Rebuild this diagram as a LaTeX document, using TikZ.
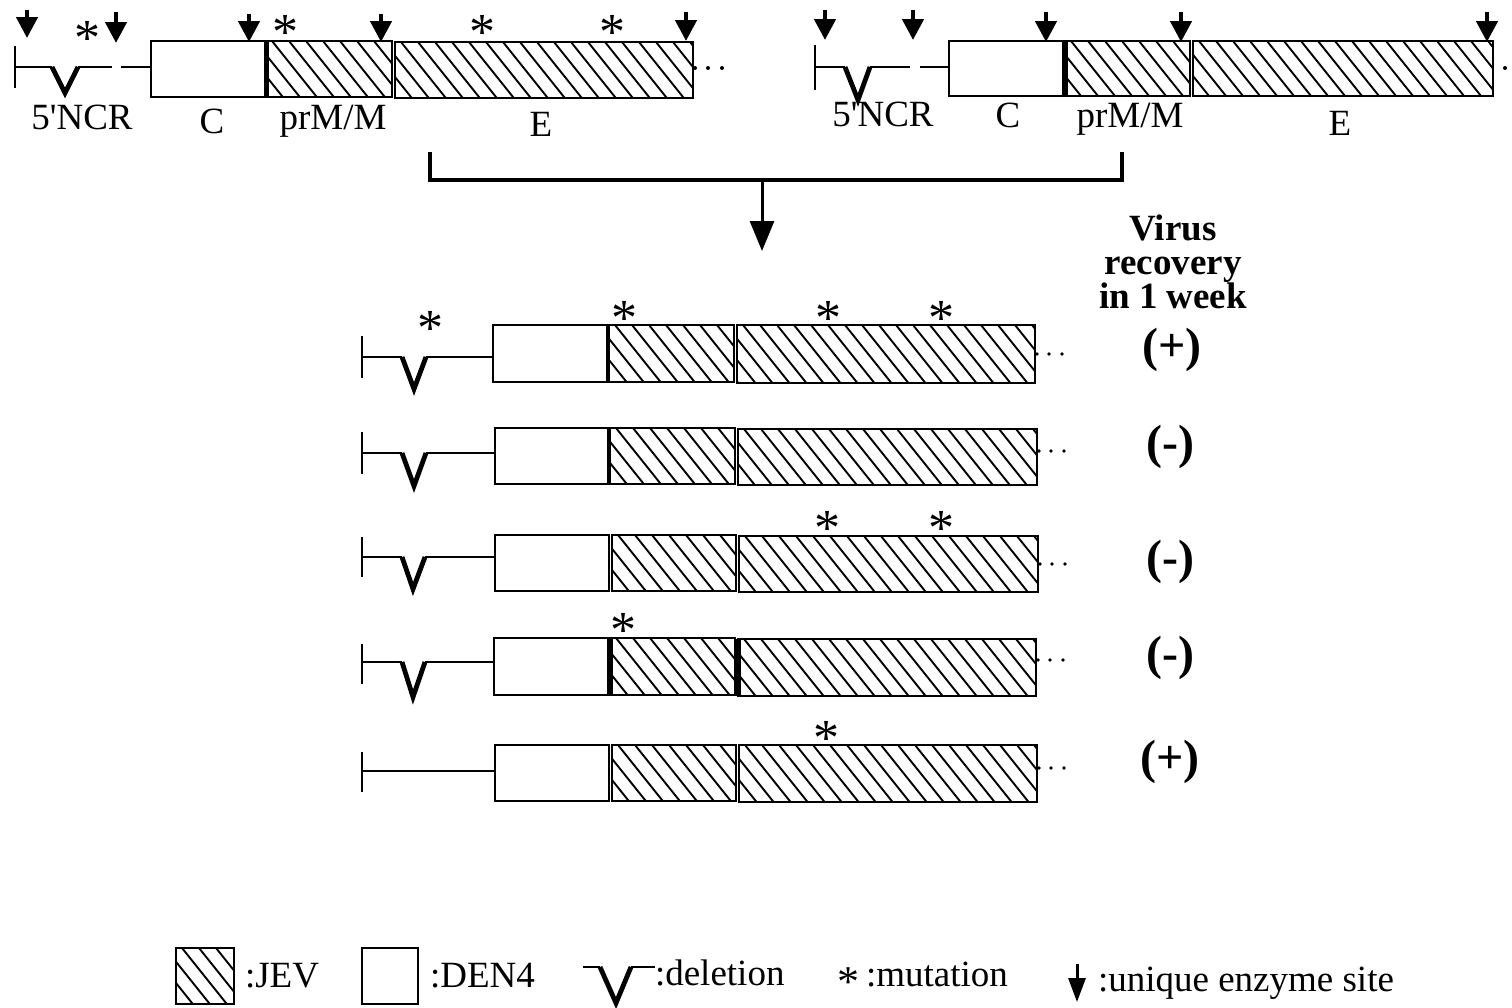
\documentclass[tikz,border=0pt]{standalone}
\usepackage{fontspec}
\setmainfont{Liberation Serif}[Ligatures=TeXOff]
\usetikzlibrary{arrows.meta}
\newcommand\gbox[6]{\node[#2, minimum width={(#5)-(#3)}, minimum height={(#6)-(#4)}] (#1) at (#3,#4) {};}
\begin{document}
\begin{tikzpicture}[x=1pt,y=-1pt,
  den/.style={draw, line width=2.6pt, inner sep=0pt, outer sep=0pt, anchor=north west},
  jev/.style={den, path picture={\foreach \k in {0,...,24}{\draw[line width=1.9pt] ([xshift={(-62+17*\k)*1pt}]path picture bounding box.north west) -- ++(54pt,-67.5pt);}}},
  thickbar/.style={line width=5pt},
  gline/.style={line width=2.6pt},
  tickl/.style={line width=2.2pt},
  vline/.style={line width=4.8pt, line join=miter, miter limit=10},
  enz/.style={line width=4.5pt, -{Triangle[length=21pt,width=21pt]}},
  enzs/.style={line width=3pt, -{Triangle[length=24pt,width=17pt]}},
  brk/.style={line width=3.5pt, line join=miter},
  bigarr/.style={line width=3pt, -{Triangle[length=30pt,width=24pt]}},
  lab/.style={font=\fontsize{37}{40}\selectfont, inner sep=0pt, outer sep=0pt},
  vir/.style={font=\bfseries\fontsize{37}{34}\selectfont, inner sep=0pt, align=center},
  res/.style={font=\bfseries\fontsize{48}{50}\selectfont, inner sep=0pt},
  ast/.style={font=\fontsize{52}{52}\selectfont, inner sep=0pt, anchor=center, yshift=-7pt},
  dotf/.style={fill=black}
]
\useasboundingbox (0,0) rectangle (1512,1007);

% ---------------- top-left construct ----------------
\gbox{tlc}{den}{151}{41}{265}{97}
\gbox{tlp}{jev}{266}{41}{392}{97}
\gbox{tle}{jev}{395}{42}{693}{98}
\draw[thickbar] (tlp.north west) -- (tlp.south west);
\draw[tickl] (15,46) -- (15,88);
\draw[gline] (15,67) -- (52,67);
\draw[vline] (52,67) -- (65,93) -- (78,67);
\draw[gline] (78,67) -- (112,67);
\draw[gline] (121,67) -- (tlc.west |- 0,67);
\fill[dotf] (695,68) circle (2) (708,68) circle (2) (722,68) circle (2);
\draw[enz] (27,10) -- (27,38);
\draw[enz] (116,12) -- (116,43);
\draw[enz] (249,14) -- (249,42);
\draw[enz] (381,14) -- (381,42);
\draw[enz] (686,12) -- (686,41);
\node[ast] (tla1) at (87,31) {*};
\node[ast] (tla2) at (285,25) {*};
\node[ast] (tla3) at (482,25) {*};
\node[ast] (tla4) at (612,25) {*};
\node[lab, anchor=base] (tll1) at (82,129) {5'NCR};
\node[lab, anchor=base] (tll2) at (212,133) {C};
\node[lab, anchor=base] (tll3) at (333,129) {prM/M};
\node[lab, anchor=base] (tll4) at (541,136) {E};

% ---------------- top-right construct ----------------
\gbox{trc}{den}{949}{41}{1063}{96}
\gbox{trp}{jev}{1065}{41}{1190}{96}
\gbox{tre}{jev}{1193}{41}{1493}{96}
\draw[thickbar] (trp.north west) -- (trp.south west);
\draw[tickl] (815,45) -- (815,90);
\draw[gline] (815,67) -- (845,67);
\draw[vline] (845,67) -- (858,100) -- (870,67);
\draw[gline] (870,67) -- (910,67);
\draw[gline] (920,67) -- (trc.west |- 0,67);
\fill[dotf] (1505,68) circle (2);
\draw[enz] (825,10) -- (825,40);
\draw[enz] (913,10) -- (913,40);
\draw[enz] (1046,12) -- (1046,42);
\draw[enz] (1181,12) -- (1181,42);
\draw[enz] (1487,12) -- (1487,42);
\node[lab, anchor=base] (trl1) at (883,126) {5'NCR};
\node[lab, anchor=base] (trl2) at (1008,127) {C};
\node[lab, anchor=base] (trl3) at (1130,127) {prM/M};
\node[lab, anchor=base] (trl4) at (1340,135) {E};

% ---------------- bracket and arrow ----------------
\coordinate (bl) at (430,152);
\coordinate (br) at (1122,152);
\coordinate (bm) at (762,180);
\coordinate (bt) at (762,251);
\draw[brk] (bl) -- (bl |- bm) -- (br |- bm) -- (br);
\draw[bigarr] (bm) -- (bt);

% ---------------- heading ----------------
\node[vir] (vr) at (1173,262) {Virus\\recovery\\in 1 week};

% ---------------- row 1 ----------------
\gbox{r1c}{den}{493}{325}{607}{382}
\gbox{r1p}{jev}{609}{325}{734}{382}
\gbox{r1e}{jev}{737}{325}{1035}{383}
\draw[tickl] (362,336) -- (362,378);
\draw[gline] (362,357) -- (402,357);
\draw[vline] (402,357) -- (414,389) -- (426,357);
\draw[gline] (426,357) -- (r1c.west |- 0,357);
\fill[dotf] (1037,354) circle (1.8) (1049,354) circle (1.8) (1062,354) circle (1.8);
\node[ast] (r1a1) at (430,321) {*};
\node[ast] (r1a2) at (624,311) {*};
\node[ast] (r1a3) at (828,311) {*};
\node[ast] (r1a4) at (941,311) {*};
\node[res] (r1r) at (1172,350) {(+)};

% ---------------- row 2 ----------------
\gbox{r2c}{den}{495}{428}{608}{484}
\gbox{r2p}{jev}{610}{428}{735}{484}
\gbox{r2e}{jev}{738}{429}{1037}{485}
\draw[tickl] (362,432) -- (362,474);
\draw[gline] (362,453) -- (402,453);
\draw[vline] (402,453) -- (414,486) -- (426,453);
\draw[gline] (426,453) -- (r2c.west |- 0,453);
\fill[dotf] (1039,451) circle (1.8) (1051,451) circle (1.8) (1064,451) circle (1.8);
\node[res] (r2r) at (1170,447) {(-)};

% ---------------- row 3 ----------------
\gbox{r3c}{den}{495}{535}{609}{591}
\gbox{r3p}{jev}{612}{535}{736}{591}
\gbox{r3e}{jev}{739}{536}{1038}{592}
\draw[tickl] (362,537) -- (362,577);
\draw[gline] (362,557) -- (402,557);
\draw[vline] (402,557) -- (413,589) -- (425,557);
\draw[gline] (425,557) -- (r3c.west |- 0,557);
\fill[dotf] (1040,564) circle (1.8) (1052,564) circle (1.8) (1065,564) circle (1.8);
\node[ast] (r3a1) at (827,521) {*};
\node[ast] (r3a2) at (941,521) {*};
\node[res] (r3r) at (1170,562) {(-)};

% ---------------- row 4 ----------------
\gbox{r4c}{den}{494}{638}{608}{695}
\gbox{r4p}{jev}{610}{638}{735}{695}
\gbox{r4e}{jev}{738}{639}{1036}{696}
\draw[thickbar] (r4p.north west) -- (r4p.south west);
\draw[thickbar] (r4e.north west) -- (r4e.south west);
\draw[tickl] (362,644) -- (362,684);
\draw[gline] (362,662) -- (402,662);
\draw[vline] (402,662) -- (413,697) -- (425,662);
\draw[gline] (425,662) -- (r4c.west |- 0,662);
\fill[dotf] (1038,660) circle (1.8) (1050,660) circle (1.8) (1063,660) circle (1.8);
\node[ast] (r4a1) at (623,623) {*};
\node[res] (r4r) at (1170,658) {(-)};

% ---------------- row 5 ----------------
\gbox{r5c}{den}{495}{745}{609}{801}
\gbox{r5p}{jev}{612}{745}{736}{801}
\gbox{r5e}{jev}{739}{745}{1037}{802}
\draw[tickl] (362,752) -- (362,792);
\draw[gline] (362,771) -- (r5c.west |- 0,771);
\fill[dotf] (1039,768) circle (1.8) (1051,768) circle (1.8) (1064,768) circle (1.8);
\node[ast] (r5a1) at (826,731) {*};
\node[res] (r5r) at (1170,762) {(+)};

% ---------------- legend ----------------
\gbox{lgj}{jev}{176}{948}{234}{1004}
\node[lab, anchor=base west] (lgjt) at (245,987) {:JEV};
\gbox{lgd}{den}{362}{948}{418}{1004}
\node[lab, anchor=base west] (lgdt) at (430,987) {:DEN4};
\draw[gline] (583,967) -- (600,967);
\draw[vline] (600,967) -- (616,1003) -- (631,967);
\draw[gline] (631,967) -- (655,967);
\node[lab, anchor=base west] (lgvt) at (655,985) {:deletion};
\node[ast, font=\fontsize{44}{44}\selectfont, yshift=-1pt] (lga) at (848,974) {*};
\node[lab, anchor=base west] (lgat) at (866,986) {:mutation};
\draw[enzs] (1077,964) -- (1077,1002);
\node[lab, anchor=base west] (lget) at (1098,991) {:unique enzyme site};
\end{tikzpicture}
\end{document}
